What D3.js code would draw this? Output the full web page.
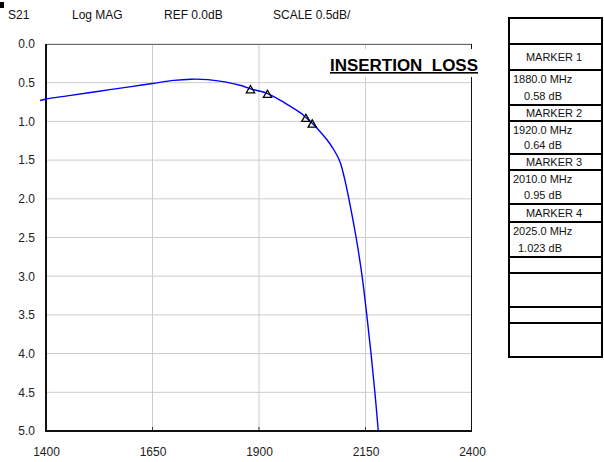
<!DOCTYPE html>
<html>
<head>
<meta charset="utf-8">
<script src="https://cdn.jsdelivr.net/npm/d3@7"></script>
<style>
  body { margin: 0; background: white; }
  text { font-family: "Liberation Sans", Arial, sans-serif; }
</style>
</head>
<body>
<script>
// data
const freqTicks = [1400, 1650, 1900, 2150, 2400]
const lossTicks = [0, 0.5, 1, 1.5, 2, 2.5, 3, 3.5, 4, 4.5, 5]
const freq = [1386, 1400, 1450, 1500, 1550, 1600, 1650, 1700, 1740, 1780, 1820, 1860, 1880, 1920, 1960, 2000, 2010, 2025, 2040, 2060, 2075, 2090, 2100, 2111, 2128, 2142, 2153, 2163, 2172, 2180]
const loss = [0.73, 0.71, 0.67, 0.63, 0.59, 0.55, 0.51, 0.47, 0.455, 0.46, 0.49, 0.54, 0.58, 0.64, 0.76, 0.9, 0.95, 1.023, 1.11, 1.24, 1.36, 1.52, 1.72, 2.0, 2.5, 3.0, 3.5, 4.0, 4.5, 5.0]
const markerFreq = [1880, 1920, 2010, 2025]
const markerLoss = [0.58, 0.64, 0.95, 1.023]
const headerLabels = ["S21", "Log MAG", "REF 0.0dB", "SCALE 0.5dB/"]

const w = 604
const h = 462
const x0 = 46, x1 = 472, y0 = 44, y1 = 431

const xScale = d3.scaleLinear().domain([1400, 2400]).range([x0, x1])
const yScale = d3.scaleLinear().domain([0, 5]).range([y0, y1])

const svg = d3.select("body")
              .append("svg")
              .attr("width", w)
              .attr("height", h)
              .style("background-color", "white")

// little black mark top left
svg.append("rect").attr("x", 0).attr("y", 2).attr("width", 4).attr("height", 6).attr("fill", "black")

// header
const headerX = [8, 72, 164, 273]
svg.selectAll(".hdr")
   .data(headerLabels)
   .enter()
   .append("text")
   .attr("class", "hdr")
   .attr("x", (d, i) => headerX[i])
   .attr("y", 19)
   .attr("font-size", 12)
   .attr("fill", "#111")
   .text(d => d)

// grid
svg.selectAll(".hgrid")
   .data(lossTicks)
   .enter()
   .append("line")
   .attr("x1", x0).attr("x2", x1)
   .attr("y1", d => yScale(d)).attr("y2", d => yScale(d))
   .attr("stroke", "#cccccc")
svg.selectAll(".vgrid")
   .data(freqTicks.slice(1, -1))
   .enter()
   .append("line")
   .attr("x1", d => xScale(d)).attr("x2", d => xScale(d))
   .attr("y1", y0).attr("y2", y1)
   .attr("stroke", "#cccccc")
// short ticks on the bottom edge
svg.selectAll(".vtick")
   .data(freqTicks.slice(1, -1))
   .enter()
   .append("line")
   .attr("x1", d => xScale(d)).attr("x2", d => xScale(d))
   .attr("y1", y1 - 4).attr("y2", y1)
   .attr("stroke", "#333")

// frame
svg.append("line").attr("x1", x0).attr("x2", x1).attr("y1", y0 + 0.5).attr("y2", y0 + 0.5).attr("stroke", "#666")
svg.append("line").attr("x1", x1 - 0.5).attr("x2", x1 - 0.5).attr("y1", y0).attr("y2", y1).attr("stroke", "#111")
svg.append("line").attr("x1", x0).attr("x2", x0).attr("y1", y0).attr("y2", y1 + 1).attr("stroke", "#111").attr("stroke-width", 2)
svg.append("line").attr("x1", x0 - 1).attr("x2", x1).attr("y1", y1).attr("y2", y1).attr("stroke", "#111").attr("stroke-width", 2)

// axes labels
const yAxis = d3.axisLeft(yScale).tickValues(lossTicks).tickFormat(d3.format(".1f")).tickSize(0).tickPadding(11)
const xAxis = d3.axisBottom(xScale).tickValues(freqTicks).tickFormat(d3.format("d")).tickSize(0).tickPadding(16)
svg.append("g").attr("transform", "translate(" + x0 + ",0)").call(yAxis)
   .call(g => g.select(".domain").remove())
svg.append("g").attr("transform", "translate(0," + y1 + ")").call(xAxis)
   .call(g => g.select(".domain").remove())
svg.selectAll(".tick text").attr("font-size", 12).attr("font-family", "Liberation Sans, Arial, sans-serif").attr("fill", "#222")

// title box
svg.append("rect").attr("x", 326).attr("y", 49).attr("width", 154).attr("height", 28).attr("fill", "white")
svg.append("text")
   .attr("x", 478).attr("y", 71)
   .attr("text-anchor", "end")
   .attr("font-size", 16)
   .attr("font-weight", "bold")
   .attr("text-decoration", "underline")
   .attr("textLength", 148)
   .attr("lengthAdjust", "spacingAndGlyphs")
   .style("white-space", "pre")
   .text("INSERTION  LOSS")

// trace
const line = d3.line()
               .x((d, i) => xScale(freq[i]))
               .y(d => yScale(d))
               .curve(d3.curveCatmullRom.alpha(0.5))
svg.append("path")
   .datum(loss)
   .attr("d", line)
   .attr("fill", "none")
   .attr("stroke", "#0000ff")
   .attr("stroke-width", 1.4)

// markers
svg.selectAll(".mk")
   .data(markerFreq)
   .enter()
   .append("path")
   .attr("d", d3.symbol(d3.symbolTriangle, 30))
   .attr("transform", (d, i) => "translate(" + xScale(d) + "," + (yScale(markerLoss[i]) + 1.5) + ")")
   .attr("fill", "none")
   .attr("stroke", "black")
   .attr("stroke-width", 1.3)

// marker table
const tx = 509, tw = 93
const rowLines = [18, 44, 70, 105, 121, 154, 170, 204, 222, 257, 273, 307, 323, 357]
svg.append("rect").attr("x", tx).attr("y", rowLines[0]).attr("width", tw).attr("height", rowLines[rowLines.length - 1] - rowLines[0])
   .attr("fill", "white").attr("stroke", "black").attr("stroke-width", 2)
svg.selectAll(".rowline")
   .data(rowLines.slice(1, -1))
   .enter()
   .append("line")
   .attr("x1", tx).attr("x2", tx + tw)
   .attr("y1", d => d).attr("y2", d => d)
   .attr("stroke", "black").attr("stroke-width", 2)

markerFreq.forEach((f, i) => {
  const top = rowLines[1 + i * 2]
  const mid = rowLines[2 + i * 2]
  const bot = rowLines[3 + i * 2]
  svg.append("text").attr("x", 554).attr("y", (top + mid) / 2 + 4)
     .attr("text-anchor", "middle").attr("font-size", 11).attr("fill", "#111")
     .text("MARKER " + (i + 1))
  svg.append("text").attr("x", 513).attr("y", mid + 13)
     .attr("font-size", 11).attr("fill", "#111")
     .text(f.toFixed(1) + " MHz")
  svg.append("text").attr("x", 562).attr("y", bot - 5)
     .attr("text-anchor", "end").attr("font-size", 11).attr("fill", "#111")
     .text(String(markerLoss[i]) + " dB")
})
</script>
</body>
</html>
